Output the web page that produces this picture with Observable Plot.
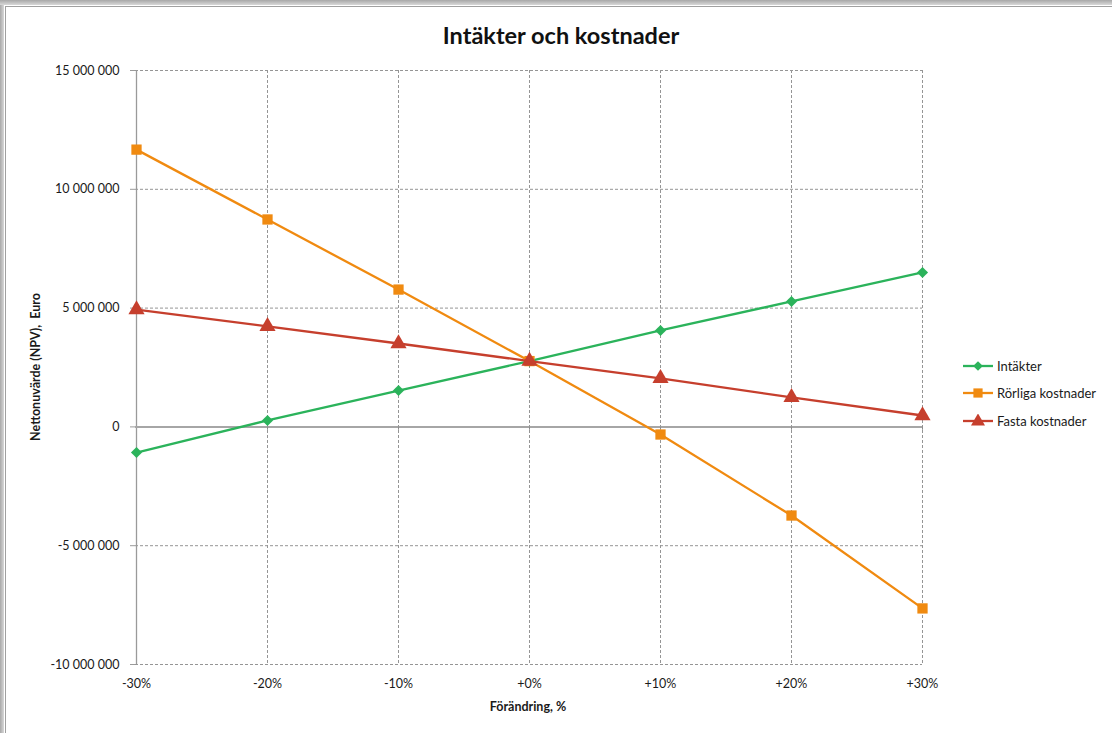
<!DOCTYPE html>
<html>
<head>
<meta charset="utf-8">
<script src="https://cdn.jsdelivr.net/npm/d3@7"></script>
<script src="https://cdn.jsdelivr.net/npm/@observablehq/plot@0.6"></script>
<style>
  html, body { margin: 0; padding: 0; background: #fff; }
  #wrap { position: relative; width: 1112px; height: 733px; overflow: hidden; font-family: Lato, "Open Sans", sans-serif; color: #1a1a1a; }
  #chart { position: absolute; left: 0; top: 0; }
  .bl { position: absolute; left: 0; top: 0; width: 4px; height: 733px; background: linear-gradient(to right, #a8a8a8, #d8d8d8); }
  .bl2 { position: absolute; left: 5px; top: 6px; width: 1px; height: 727px; background: #a0a0a0; }
  .bt { position: absolute; left: 0; top: 0; width: 1112px; height: 5px; background: linear-gradient(to bottom, #a8a8a8, #d8d8d8); }
  .bt2 { position: absolute; left: 5px; top: 6px; width: 1107px; height: 1px; background: #a0a0a0; }
  #title { position: absolute; left: 361px; width: 400px; top: 21px; text-align: center; font-weight: bold; font-size: 23.5px; line-height: 28px; color: #111; }
  #ylab { position: absolute; left: 35px; top: 367px; transform: translate(-50%, -50%) rotate(-90deg); white-space: nowrap; font-weight: bold; font-size: 12.5px; }
  #xlab { position: absolute; left: 528px; top: 706px; transform: translate(-50%, -50%); white-space: nowrap; font-weight: bold; font-size: 12.5px; }
  #legend { position: absolute; left: 962px; top: 352px; }
  .item { display: flex; align-items: center; height: 27.5px; font-size: 13px; }
  .item svg { margin-right: 3px; }
</style>
</head>
<body>
<div id="wrap">
  <div class="bl"></div><div class="bl2"></div><div class="bt"></div><div class="bt2"></div>
  <div id="chart"></div>
  <div id="title">Intäkter och kostnader</div>
  <div id="ylab">Nettonuvärde (NPV),&nbsp; Euro</div>
  <div id="xlab">Förändring, %</div>
  <div id="legend"></div>
</div>
<script>
// ---- data ----
const changes = ["-30%", "-20%", "-10%", "+0%", "+10%", "+20%", "+30%"];
const intakter = [-1080000, 270000, 1530000, 2770000, 4060000, 5280000, 6500000];
const rorliga = [11670000, 8730000, 5780000, 2770000, -320000, -3730000, -7640000];
const fasta = [4940000, 4230000, 3510000, 2770000, 2040000, 1240000, 480000];
const seriesNames = ["Intäkter", "Rörliga kostnader", "Fasta kostnader"];
const seriesColors = ["#2bb35b", "#f08a10", "#c63f2d"];
const seriesSymbols = ["diamond2", "square", "triangle"];
const yTicks = [-10000000, -5000000, 0, 5000000, 10000000, 15000000];

const seriesValues = [intakter, rorliga, fasta];
const locale = d3.formatLocale({decimal: ",", thousands: " ", grouping: [3], currency: ["", " €"], minus: "-"});
const fmt = locale.format(",d");

const symbolR = {diamond2: 5, square: 5.8, triangle: 6};

const seriesMarks = seriesNames.flatMap((name, i) => {
  const data = changes.map((c, j) => ({x: c, y: seriesValues[i][j]}));
  return [
    Plot.line(data, {x: "x", y: "y", stroke: seriesColors[i], strokeWidth: 2.3}),
    Plot.dot(data, {x: "x", y: "y", symbol: () => seriesSymbols[i], r: symbolR[seriesSymbols[i]], fill: seriesColors[i], stroke: "none"})
  ];
});

const chart = Plot.plot({
  width: 1112,
  height: 733,
  marginLeft: 135,
  marginRight: 190,
  marginTop: 70,
  marginBottom: 69,
  style: {fontFamily: "Lato, 'Open Sans', sans-serif", fontSize: "12.5px", color: "#1a1a1a", background: "transparent"},
  x: {type: "point", domain: changes, padding: 0, label: null},
  y: {domain: [-10000000, 15000000], label: null},
  symbol: {type: "identity"},
  marks: [
    Plot.ruleY(yTicks.filter(d => d !== 0), {stroke: "#959595", strokeDasharray: "3,2"}),
    Plot.ruleX(changes.slice(1), {stroke: "#959595", strokeDasharray: "3,2"}),
    Plot.ruleX([changes[0]], {stroke: "#9a9a9a", strokeWidth: 1.3}),
    Plot.ruleY([0], {stroke: "#a6a6a6", strokeWidth: 2}),
    Plot.ruleX(changes.slice(1), {y1: 0, y2: -140000, stroke: "#8c8c8c"}),
    Plot.axisY({ticks: yTicks, tickFormat: fmt, tickSize: 5, tickPadding: 11, stroke: "#9a9a9a"}),
    Plot.axisX({tickSize: 0, tickPadding: 15}),
    ...seriesMarks
  ]
});
document.getElementById("chart").appendChild(chart);

// ---- legend ----
const legend = document.getElementById("legend");
seriesNames.forEach((name, i) => {
  const item = document.createElement("div");
  item.className = "item";
  const sym = d3.symbol().type(i === 0 ? d3.symbolDiamond2 : i === 1 ? d3.symbolSquare : d3.symbolTriangle).size(i === 0 ? 60 : i === 1 ? 85 : 85)();
  item.innerHTML = `<svg width="32" height="14"><line x1="1" x2="31" y1="7" y2="7" stroke="${seriesColors[i]}" stroke-width="2.3"/><path transform="translate(16,${i === 2 ? 7.5 : 7})" d="${sym}" fill="${seriesColors[i]}"/></svg><span>${name}</span>`;
  legend.appendChild(item);
});
</script>
</body>
</html>
